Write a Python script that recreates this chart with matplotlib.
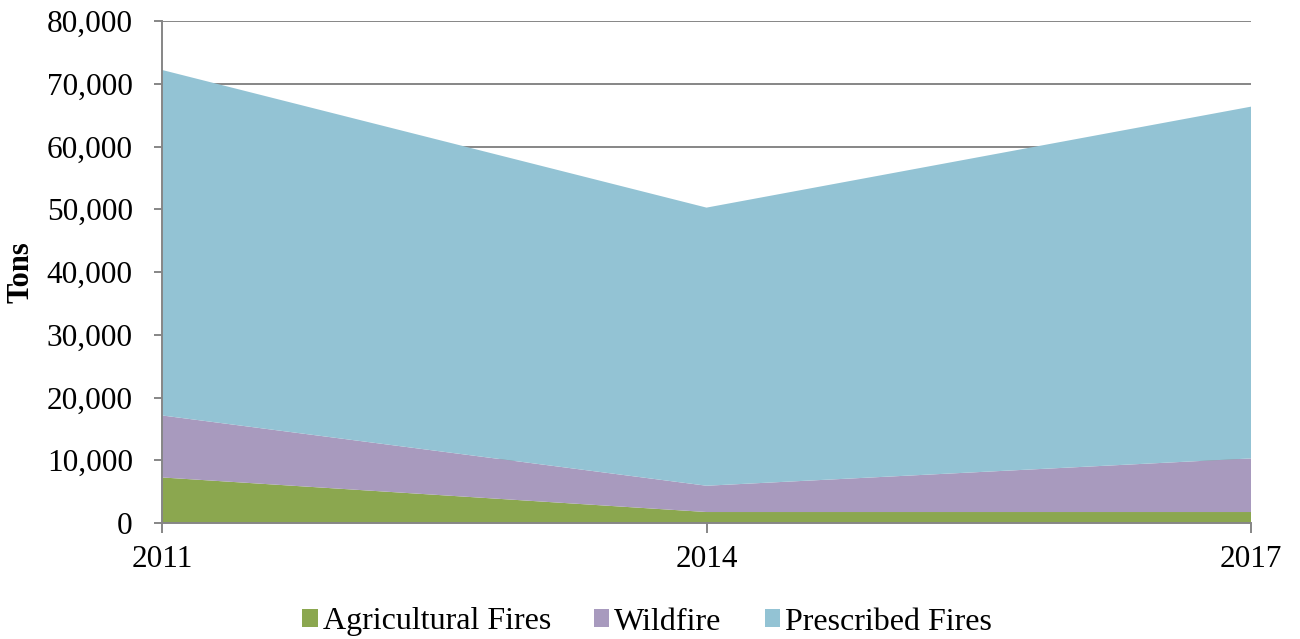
import matplotlib
matplotlib.use("Agg")
import matplotlib.pyplot as plt
from matplotlib.ticker import FuncFormatter
from matplotlib.patches import Patch

years = [2011, 2014, 2017]
year_labels = ["2011", "2014", "2017"]
agricultural = [7260, 1750, 1750]
wildfire = [9880, 4190, 8540]
prescribed = [55060, 44320, 56060]
series_names = ["Agricultural Fires", "Wildfire", "Prescribed Fires"]
colors = ["#8BA74F", "#A89ABE", "#93C3D4"]

plt.rcParams['font.family'] = ['Liberation Serif', 'DejaVu Serif']

fig = plt.figure(figsize=(13, 6.39), dpi=100)
ax = fig.add_axes([162/1300, 1-523/639, (1251-162)/1300, (523-21)/639])

ax.stackplot(years, agricultural, wildfire, prescribed, colors=colors, linewidth=0, zorder=2)

ax.set_xlim(2011, 2017)
ax.set_ylim(0, 80000)
ax.set_yticks(range(0, 80001, 10000))
ax.set_xticks(years)
ax.set_xticklabels(year_labels)
ax.yaxis.set_major_formatter(FuncFormatter(lambda v, p: f"{int(v):,}"))
ax.grid(axis='y', color='#868686', linewidth=1.4, zorder=1)
ax.set_axisbelow(True)
for s in ['top', 'right']:
    ax.spines[s].set_visible(False)
for s in ['left', 'bottom']:
    ax.spines[s].set_color('#868686')
    ax.spines[s].set_linewidth(1.4)
ax.spines['bottom'].set_zorder(3)
ax.tick_params(axis='y', length=6, width=1.4, color='#868686', pad=15, labelsize=22.5)
ax.tick_params(axis='x', length=7, width=1.4, color='#868686', pad=9, labelsize=22.5)
ax.set_ylabel("Tons", fontsize=22, fontweight='bold')
ax.yaxis.set_label_coords(-0.116, 0.5)

handles = [Patch(facecolor=c, edgecolor='none') for c in colors]
fig.legend(handles, series_names, loc='center', bbox_to_anchor=(647/1300, 1-622/639),
           ncol=3, frameon=False, fontsize=23, handlelength=0.48, handleheight=0.48,
           handletextpad=0.15, columnspacing=1.35)

fig.savefig("out.png", dpi=100)
